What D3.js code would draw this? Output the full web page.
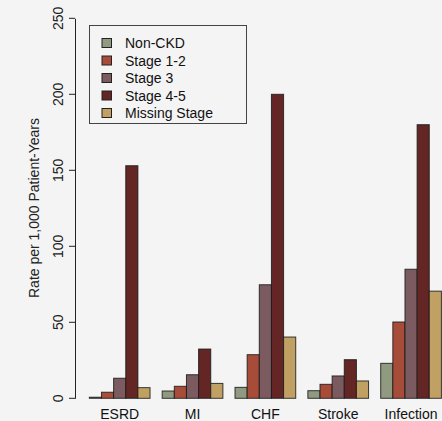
<!DOCTYPE html>
<html><head><meta charset="utf-8">
<script src="https://cdn.jsdelivr.net/npm/d3@7"></script>
<style>
html,body{margin:0;padding:0;background:#f4f4f4;}
svg{display:block;font-family:"Liberation Sans",Arial,Helvetica,sans-serif;}
</style></head>
<body><svg id="c" width="442" height="421"></svg>
<script>
const categories = ["ESRD","MI","CHF","Stroke","Infection"];
const seriesNames = ["Non-CKD","Stage 1-2","Stage 3","Stage 4-5","Missing Stage"];
const nonCKD   = [0.7, 4.8, 7.2, 5.0, 23];
const stage12  = [4, 7.9, 28.7, 9.2, 50.2];
const stage3   = [13.2, 15.5, 74.7, 14.7, 84.9];
const stage45  = [153, 32.4, 200, 25.4, 180];
const missing  = [7, 9.8, 40.3, 11.4, 70.5];
const yTicks = [0,50,100,150,200,250];
const colors = ["#8f9a80","#a84c3a","#7b5b5f","#632624","#c1a163"];
const seriesValues = [nonCKD, stage12, stage3, stage45, missing];

const svg = d3.select("#c");
const x = d3.scaleLinear().domain([0,30]).range([77.2,441.4]);
const y = d3.scaleLinear().domain([0,250]).range([398.3,18.3]);
const FS = 14;

// bars
categories.forEach((cat,i)=>{
  seriesValues.forEach((vals,j)=>{
    const u0 = 6*i+1+j;
    svg.append("rect")
      .attr("x", x(u0)).attr("width", x(u0+1)-x(u0))
      .attr("y", y(vals[i])).attr("height", y(0)-y(vals[i]))
      .attr("fill", colors[j]).attr("stroke","#1a1a1a").attr("stroke-opacity",0.85).attr("stroke-width",1);
  });
  svg.append("text").attr("x", x(6*i+3.5)).attr("y", 419)
    .attr("text-anchor","middle").attr("font-size",FS).attr("fill","#111").text(cat);
});

// y axis
const ax = svg.append("g").attr("transform","translate(75,0)")
  .call(d3.axisLeft(y).tickValues(yTicks).tickSize(6).tickSizeOuter(0).tickFormat(d3.format("d")));
ax.select(".domain").attr("stroke","#222");
ax.selectAll(".tick").attr("transform","translate(0,0)");
ax.selectAll(".tick line").attr("stroke","#222")
  .attr("y1", d=>y(d)).attr("y2", d=>y(d));
ax.selectAll(".tick text").attr("font-size",FS).attr("fill","#222")
  .attr("font-family","'Liberation Sans',Arial,sans-serif")
  .attr("transform","rotate(-90)")
  .attr("x", d => -y(d)).attr("y", -12).attr("dy","0")
  .attr("text-anchor","middle");

svg.append("text").attr("transform","translate(38.5,208) rotate(-90)")
  .attr("text-anchor","middle").attr("font-size",FS).attr("fill","#222")
  .text("Rate per 1,000 Patient-Years");

// legend
const lg = svg.append("g");
lg.append("rect").attr("x",89.5).attr("y",25.5).attr("width",157).attr("height",98)
  .attr("fill","none").attr("stroke","#444").attr("stroke-width",1);
seriesNames.forEach((n,j)=>{
  const cy = 43 + j*17.5;
  lg.append("rect").attr("x",102).attr("y",cy-4.5).attr("width",9.5).attr("height",9)
    .attr("fill",colors[j]).attr("stroke","#222").attr("stroke-width",1);
  lg.append("text").attr("x",125).attr("y",cy+5).attr("font-size",FS).attr("fill","#111").text(n);
});
</script></body></html>
